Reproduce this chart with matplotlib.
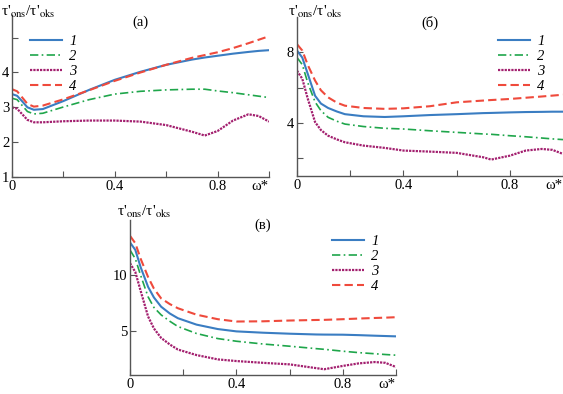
import matplotlib
matplotlib.use("Agg")
from matplotlib import pyplot as plt

plt.rcParams['font.family'] = ['Liberation Serif', 'DejaVu Serif']
plt.rcParams['mathtext.fontset'] = 'stix'

xa = [0, 0.02, 0.04, 0.06, 0.085, 0.12, 0.2, 0.3, 0.4, 0.5, 0.6, 0.7, 0.75, 0.8, 0.86, 0.92, 0.96, 1.0]
a1 = [3.38, 3.33, 3.17, 3.0, 2.93, 2.95, 3.18, 3.5, 3.79, 4.02, 4.22, 4.37, 4.43, 4.48, 4.54, 4.59, 4.62, 4.64]
a2 = [3.26, 3.22, 3.05, 2.88, 2.81, 2.83, 3.01, 3.22, 3.38, 3.46, 3.5, 3.52, 3.52, 3.47, 3.42, 3.36, 3.32, 3.28]
a3 = [3.0, 2.96, 2.8, 2.64, 2.57, 2.57, 2.6, 2.62, 2.62, 2.59, 2.49, 2.3, 2.19, 2.32, 2.62, 2.8, 2.75, 2.59]
a4 = [3.52, 3.46, 3.28, 3.1, 3.02, 3.05, 3.23, 3.49, 3.76, 4.0, 4.22, 4.42, 4.5, 4.58, 4.7, 4.84, 4.94, 5.04]

xb = [0, 0.02, 0.04, 0.068, 0.09, 0.117, 0.15, 0.18, 0.25, 0.33, 0.4, 0.5, 0.6, 0.7, 0.73, 0.8, 0.86, 0.92, 0.96, 1.0]
b1 = [8.1, 7.7, 6.8, 5.54, 5.1, 4.85, 4.65, 4.5, 4.38, 4.34, 4.38, 4.45, 4.5, 4.56, 4.57, 4.6, 4.62, 4.63, 4.64, 4.64]
b2 = [7.71, 7.3, 6.3, 5.19, 4.7, 4.32, 4.1, 3.94, 3.8, 3.7, 3.66, 3.56, 3.47, 3.38, 3.36, 3.28, 3.22, 3.15, 3.1, 3.06]
b3 = [6.96, 6.5, 5.4, 4.05, 3.6, 3.28, 3.07, 2.91, 2.72, 2.59, 2.44, 2.38, 2.31, 2.06, 1.93, 2.15, 2.44, 2.53, 2.48, 2.25]
b4 = [8.46, 8.1, 7.3, 6.4, 5.85, 5.45, 5.15, 4.98, 4.85, 4.8, 4.83, 4.95, 5.17, 5.27, 5.3, 5.36, 5.43, 5.5, 5.55, 5.6]

xc = xb
c1 = [12.97, 12.3, 10.74, 8.96, 8.0, 7.17, 6.55, 6.13, 5.55, 5.15, 4.94, 4.82, 4.73, 4.66, 4.65, 4.64, 4.6, 4.55, 4.52, 4.49]
c2 = [12.29, 11.5, 10.0, 8.06, 7.1, 6.43, 5.85, 5.38, 4.75, 4.29, 4.05, 3.8, 3.6, 3.38, 3.32, 3.15, 3.02, 2.92, 2.85, 2.79]
c3 = [11.1, 10.3, 8.6, 6.28, 5.2, 4.35, 3.75, 3.3, 2.8, 2.41, 2.26, 2.1, 1.96, 1.62, 1.52, 1.82, 2.05, 2.17, 2.1, 1.72]
c4 = [13.57, 12.9, 11.5, 9.85, 8.8, 7.92, 7.4, 7.03, 6.45, 6.04, 5.83, 5.85, 5.92, 5.97, 5.98, 6.04, 6.1, 6.15, 6.18, 6.22]

labels = ['1', '2', '3', '4']
x_ticks = [0, 0.2, 0.4, 0.6, 0.8, 1.0]
x_ticklabels = ['0', '', '0.4', '', '0.8', 'ω*']

styles = [
    dict(color='#3a7dc2', linestyle='-', linewidth=1.5),
    dict(color='#1fa64b', linestyle=(0, (5, 2, 1, 2)), linewidth=1.2),
    dict(color='#a3206f', linestyle=(0, (1, 0.5)), linewidth=1.6),
    dict(color='#ef4a3c', linestyle=(0, (4, 2)), linewidth=1.5),
]

W, H = 563, 394
fig = plt.figure(figsize=(W / 100, H / 100), dpi=100)


def add_panel(px_left, px_right, px_top, px_bottom, x, ys, ylim, yticks, yticklabels,
              title, title_y, leg_anchor, ylab_pos):
    ax = fig.add_axes([px_left / W, 1 - px_bottom / H,
                       (px_right - px_left) / W, (px_bottom - px_top) / H])
    for y, st, lab in zip(ys, styles, labels):
        ax.plot(x, y, label=lab, **st)
    ax.set_xlim(0, 1.0)
    ax.set_ylim(*ylim)
    ax.set_xticks(x_ticks)
    ax.set_xticklabels(x_ticklabels)
    ax.get_xticklabels()[-1].set_horizontalalignment('right')
    ax.set_yticks(yticks)
    ax.set_yticklabels(yticklabels)
    for s in ['top', 'right']:
        ax.spines[s].set_visible(False)
    for s in ['left', 'bottom']:
        ax.spines[s].set_color('#555555')
        ax.spines[s].set_linewidth(1.0)
    ax.tick_params(direction='in', length=4, width=0.8, color='#555555',
                   labelsize=10.5, pad=2)
    ax.text(0.5, title_y, title, transform=ax.transAxes, ha='center', va='center',
            fontsize=10.5)
    ax.legend(loc='upper left', bbox_to_anchor=leg_anchor, frameon=False,
              handlelength=2.2, handletextpad=0.5, labelspacing=0.12,
              borderaxespad=0, prop=dict(size=10.5, style='italic'))
    fig.text(ylab_pos[0] / W, 1 - ylab_pos[1] / H,
             "τ'$_{\\rm ons}$/τ'$_{\\rm oks}$", ha='left', va='center', fontsize=11)
    return ax


add_panel(12, 269, 15, 177, xa, [a1, a2, a3, a4], (1, 5.65),
          [1, 2, 3, 4, 5], ['1', '2', '3', '4', ''], '(а)', 0.955,
          ((24 - 12) / 257, (177 - 29) / 162), (1, 12))
add_panel(297, 563, 17, 176, xb, [b1, b2, b3, b4], (1, 10),
          [2, 4, 6, 8], ['', '4', '', '8'], '(б)', 0.96,
          ((492 - 297) / 266, (176 - 29) / 159), (288, 12))
add_panel(130, 396, 220, 375, xc, [c1, c2, c3, c4], (1, 15),
          [5, 10], ['5', '10'], '(в)', 0.968,
          ((326 - 130) / 266, (375 - 229) / 155), (117, 212))

fig.savefig('out.png', dpi=100)
